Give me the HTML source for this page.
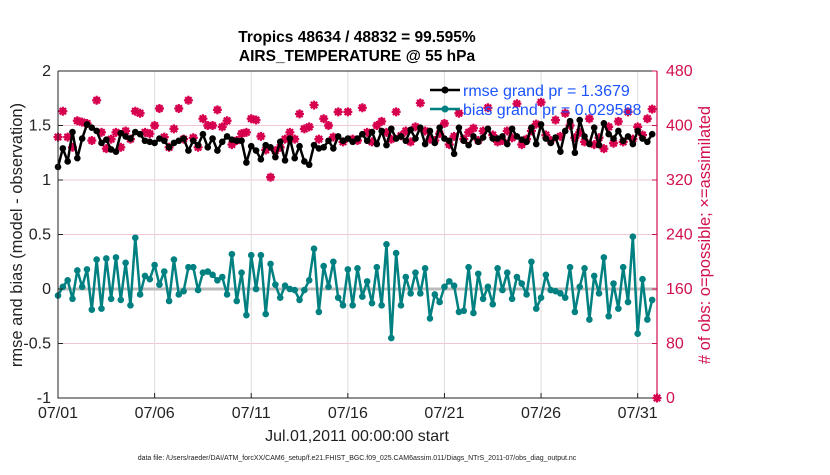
<!DOCTYPE html>
<html><head><meta charset="utf-8"><style>
body{margin:0;background:#fff;}
svg{font-family:"Liberation Sans",sans-serif;}
</style></head><body>
<svg id="chart" width="830" height="470" xmlns="http://www.w3.org/2000/svg">
<rect width="830" height="470" fill="#fff"/>
<g id="grid"></g>
<g id="marks"></g>
<g id="axes"></g>
<text x="357" y="42" text-anchor="middle" font-size="15.5" font-weight="bold">Tropics 48634 / 48832 = 99.595%</text>
<text x="357" y="61" text-anchor="middle" font-size="15.5" font-weight="bold">AIRS_TEMPERATURE @ 55 hPa</text>
<text transform="translate(22,235) rotate(-90)" text-anchor="middle" font-size="16.5" fill="#222">rmse and bias (model - observation)</text>
<text transform="translate(710,235) rotate(-90)" text-anchor="middle" font-size="16.5" fill="#d0104c"># of obs: o=possible; ×=assimilated</text>
<text x="357" y="441" text-anchor="middle" font-size="16" fill="#222">Jul.01,2011 00:00:00 start</text>
<text x="357" y="460" text-anchor="middle" font-size="7" fill="#222">data file: /Users/raeder/DAI/ATM_forcXX/CAM6_setup/f.e21.FHIST_BGC.f09_025.CAM6assim.011/Diags_NTrS_2011-07/obs_diag_output.nc</text>
<g>
  <line x1="430" y1="90" x2="460" y2="90" stroke="#000" stroke-width="2.5"/>
  <circle cx="445" cy="90" r="3.5" fill="#000"/>
  <text x="463" y="96" font-size="16" fill="#1a53ff">rmse grand pr = 1.3679</text>
  <line x1="430" y1="109" x2="460" y2="109" stroke="#008080" stroke-width="2.5"/>
  <circle cx="445" cy="109" r="3.5" fill="#008080"/>
  <text x="463" y="115" font-size="16" fill="#1a53ff">bias grand pr = 0.029588</text>
</g>
</svg>
<script>
const rmse=[1.12,1.29,1.17,1.44,1.2,1.38,1.51,1.48,1.45,1.34,1.37,1.28,1.26,1.43,1.4,1.38,1.44,1.42,1.36,1.35,1.34,1.38,1.36,1.3,1.34,1.36,1.38,1.27,1.36,1.32,1.42,1.3,1.38,1.27,1.35,1.4,1.37,1.36,1.36,1.16,1.31,1.27,1.19,1.32,1.3,1.21,1.35,1.18,1.38,1.2,1.31,1.17,1.14,1.32,1.29,1.3,1.36,1.29,1.4,1.36,1.38,1.35,1.38,1.42,1.36,1.44,1.33,1.45,1.32,1.47,1.38,1.4,1.36,1.46,1.38,1.48,1.33,1.45,1.34,1.48,1.38,1.36,1.24,1.48,1.36,1.32,1.4,1.35,1.39,1.47,1.38,1.38,1.4,1.33,1.47,1.4,1.37,1.35,1.48,1.33,1.51,1.38,1.34,1.39,1.26,1.45,1.54,1.25,1.55,1.4,1.33,1.48,1.32,1.52,1.42,1.38,1.45,1.36,1.4,1.33,1.45,1.38,1.35,1.42];
const bias=[-0.06,0.02,0.08,-0.09,0.17,0.02,0.18,-0.19,0.27,-0.18,0.28,-0.09,0.29,-0.1,0.24,-0.15,0.47,-0.05,0.12,0.09,0.22,0.04,0.16,-0.11,0.27,-0.05,-0.02,0.2,0.2,-0.01,0.15,0.16,0.13,0.08,0.11,-0.05,0.32,-0.11,0.15,-0.24,0.31,0,0.31,-0.23,0.23,0.04,-0.08,0.03,0,-0.01,-0.1,-0.01,0.08,0.37,-0.21,0.21,0.02,0.25,-0.08,-0.15,0.18,-0.15,0.19,-0.07,0.07,-0.13,0.2,-0.15,0.41,-0.45,0.33,-0.15,0.11,-0.04,0.15,-0.04,0.19,-0.27,-0.05,-0.12,0.02,0.07,0.03,-0.21,-0.2,0.2,-0.22,0.14,-0.09,0.02,-0.14,0.19,-0.01,0.15,-0.09,0.11,0.05,-0.05,0.25,-0.18,-0.08,0.13,-0.01,-0.02,-0.04,-0.08,0.2,-0.21,0.02,0.19,-0.28,0.12,-0.04,0.29,-0.25,0.05,-0.18,0.2,-0.12,0.48,-0.41,0.09,-0.28,-0.1];
const assimilated=[383,421,383,368,407,405,403,378,437,390,366,380,390,368,392,380,421,418,390,388,400,425,383,368,395,425,380,437,382,368,410,400,400,423,398,407,372,378,388,390,410,408,384,364,324,363,368,380,390,380,417,395,398,430,380,410,400,383,420,376,420,380,378,426,390,376,400,406,390,380,420,385,392,376,398,433,392,380,378,388,403,372,384,418,380,390,396,378,392,426,386,376,378,392,382,432,372,380,392,402,434,386,378,408,384,418,400,382,390,376,410,372,382,366,398,374,406,376,420,380,398,386,410,424];
const possible=assimilated.slice();
const xTicks=["07/01","07/06","07/11","07/16","07/21","07/26","07/31"];
const xTickDays=[0,5,10,15,20,25,30];
const leftTicks=[-1,-0.5,0,0.5,1,1.5,2];
const rightTicks=[0,80,160,240,320,400,480];

const NS="http://www.w3.org/2000/svg";
const X0=58,X1=657,Y0=71,Y1=398,DAYS=31;
const x=d=>X0+d*(X1-X0)/DAYS;
const yL=v=>Y1-(v+1)*(Y1-Y0)/3;
const yR=c=>Y1-c*(Y1-Y0)/480;
function mk(tag,attrs,parent){const e=document.createElementNS(NS,tag);for(const k in attrs)e.setAttribute(k,attrs[k]);parent.appendChild(e);return e;}
const grid=document.getElementById('grid'),marks=document.getElementById('marks'),axes=document.getElementById('axes');
leftTicks.forEach(v=>{const l=mk('line',{x1:X0,x2:X1,y1:yL(v),y2:yL(v),stroke:'#f3c6d6','stroke-width':1},grid);

});
xTickDays.forEach(d=>{const l=mk('line',{x1:x(d),x2:x(d),y1:Y0,y2:Y1,stroke:'#dcdcdc','stroke-width':1},grid);

});
const zl=mk('line',{x1:X0,x2:X1,y1:yL(0),y2:yL(0),stroke:'#bbb','stroke-width':3},grid);


const dayOf=i=>i*0.25;
possible.forEach((c,i)=>{const e=mk('circle',{cx:x(dayOf(i)),cy:yR(c),r:3,fill:'none',stroke:'#d6004f','stroke-width':1},marks);

});
function star(cx,cy){const g=mk('g',{},marks);


mk('path',{d:`M${cx-4.5} ${cy}H${cx+4.5}M${cx} ${cy-4.5}V${cy+4.5}M${cx-3.2} ${cy-3.2}L${cx+3.2} ${cy+3.2}M${cx-3.2} ${cy+3.2}L${cx+3.2} ${cy-3.2}`,stroke:'#d6004f','stroke-width':2.2},g);}
assimilated.forEach((c,i)=>star(x(dayOf(i)),yR(c)));
star(x(31),yR(0));
function series(arr,col,name){const p=mk('polyline',{points:arr.map((v,i)=>x(dayOf(i))+','+yL(v)).join(' '),fill:'none',stroke:col,'stroke-width':2.5,'stroke-linejoin':'round'},marks);


arr.forEach((v,i)=>{const c=mk('circle',{cx:x(dayOf(i)),cy:yL(v),r:3.3,fill:col},marks);

});}
series(rmse,'#000','rmse');
series(bias,'#008080','bias');
const la=mk('path',{d:`M${X0} ${Y0}V${Y1}H${X1}M${X0} ${Y0}H${X1}`,stroke:'#222','stroke-width':1,fill:'none'},axes);


const ra=mk('line',{x1:X1,x2:X1,y1:Y0,y2:Y1,stroke:'#d0104c','stroke-width':1.2},axes);


leftTicks.forEach(v=>{mk('line',{x1:X0,x2:X0+5,y1:yL(v),y2:yL(v),stroke:'#222'},axes);
const t=mk('text',{x:X0-7,y:yL(v)+5,'text-anchor':'end','font-size':16,fill:'#222'},axes);t.textContent=v;

});
rightTicks.forEach(c=>{mk('line',{x1:X1-5,x2:X1,y1:yR(c),y2:yR(c),stroke:'#d0104c'},axes);
const t=mk('text',{x:X1+9,y:yR(c)+5,'font-size':16,fill:'#d0104c'},axes);t.textContent=c;

});
xTicks.forEach((s,i)=>{mk('line',{x1:x(xTickDays[i]),x2:x(xTickDays[i]),y1:Y1,y2:Y1-5,stroke:'#222'},axes);
const t=mk('text',{x:x(xTickDays[i]),y:418,'text-anchor':'middle','font-size':16,fill:'#222'},axes);t.textContent=s;

});
</script>
</body></html>
